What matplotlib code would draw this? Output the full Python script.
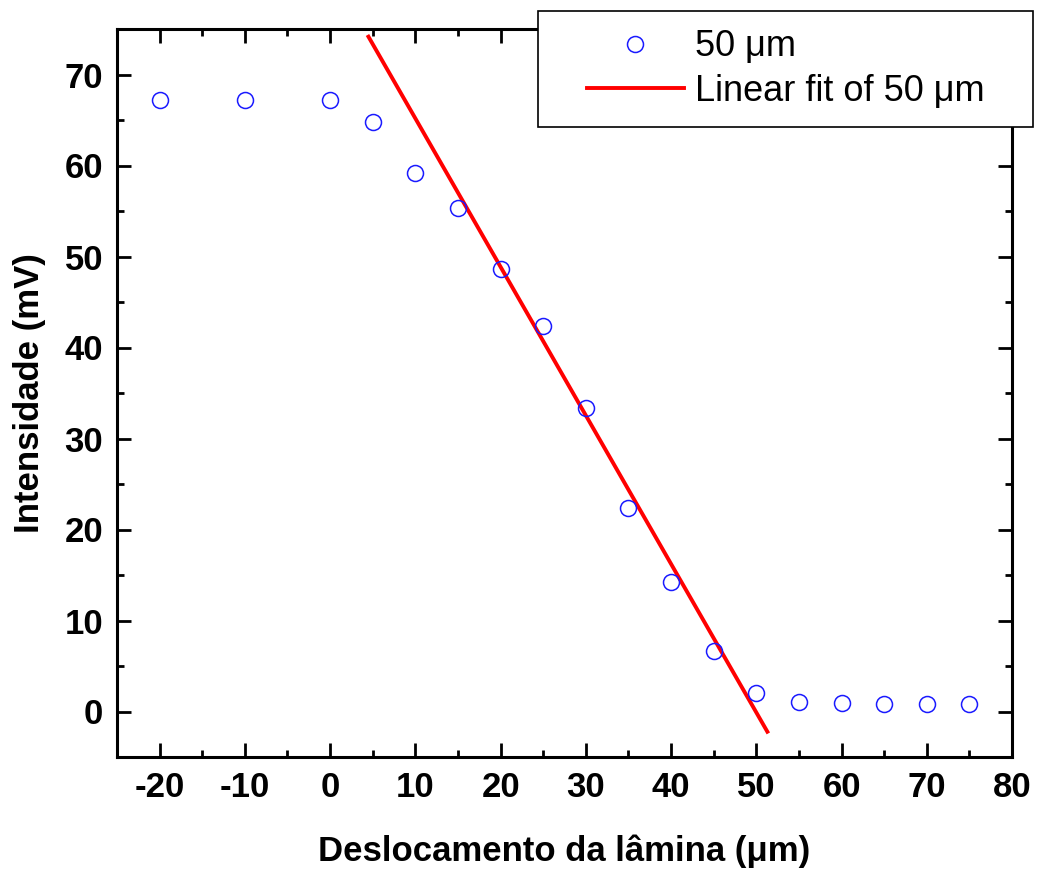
import numpy as np
import matplotlib
matplotlib.use('Agg')
import matplotlib.pyplot as plt
from matplotlib.patches import Rectangle
from matplotlib.ticker import MultipleLocator

deslocamento = [-20, -10, 0, 5, 10, 15, 20, 25, 30, 35, 40, 45, 50, 55, 60, 65, 70, 75]
intensidade = [67.25, 67.25, 67.25, 64.8, 59.2, 55.3, 48.6, 42.4, 33.3, 22.4,
               14.2, 6.7, 2.0, 1.0, 0.9, 0.77, 0.77, 0.77]

# linear fit line as drawn
fit_slope = -1.632
fit_intercept = 81.5
fit_range = [4.5, 51.3]

xticks = [-20, -10, 0, 10, 20, 30, 40, 50, 60, 70, 80]
yticks = [0, 10, 20, 30, 40, 50, 60, 70]

plt.rcParams['font.family'] = ['Liberation Sans', 'DejaVu Sans']

W, H = 1037, 873
fig = plt.figure(figsize=(W / 100, H / 100), dpi=100)
ax = fig.add_axes([117 / W, 1 - 757 / H, (1012 - 117) / W, (757 - 29) / H])

pts, = ax.plot(deslocamento, intensidade, 'o', ls='none', mfc='none', mec='#1a1aff',
               ms=11.5, mew=1.1, label='50 \u03bcm', zorder=3)
fx = np.array(fit_range)
fit, = ax.plot(fx, fit_slope * fx + fit_intercept, color='#ff0000', lw=2.8,
               label='Linear fit of 50 \u03bcm', zorder=2)

ax.set_xlim(-25, 80)
ax.set_ylim(-5, 75)
ax.set_xticks(xticks)
ax.set_yticks(yticks)
ax.set_xticklabels([str(t) for t in xticks])
ax.xaxis.set_minor_locator(MultipleLocator(5))
ax.yaxis.set_minor_locator(MultipleLocator(5))

for s in ax.spines.values():
    s.set_linewidth(2.2)
ax.tick_params(which='both', direction='in', top=True, right=True, width=2.0)
ax.tick_params(which='major', length=10, labelsize=25, pad=10)
ax.tick_params(which='minor', length=5)
for lab in ax.get_xticklabels() + ax.get_yticklabels():
    lab.set_fontweight('bold')

ax.set_xlabel('Deslocamento da l\u00e2mina (\u03bcm)', fontsize=25, fontweight='bold', labelpad=22)
ax.set_ylabel('Intensidade (mV)', fontsize=25, fontweight='bold', labelpad=13)

# legend box (sticks out past the right spine)
bx0, by0, bx1, by1 = 538, 11, 1033, 127
fig.patches.append(Rectangle((bx0 / W, 1 - by1 / H), (bx1 - bx0) / W, (by1 - by0) / H,
                             transform=fig.transFigure, fill=True, facecolor='white',
                             edgecolor='black', lw=1.2, zorder=5))
leg = fig.legend(handles=[pts, fit], loc='center',
                 bbox_to_anchor=((bx0 + bx1) / 2 / W, 1 - (by0 + by1) / 2 / H),
                 frameon=False, fontsize=26, handlelength=2.7, handletextpad=0.3,
                 labelspacing=0.25, borderpad=0)
leg.set_zorder(6)

fig.savefig('out.png', dpi=100)
